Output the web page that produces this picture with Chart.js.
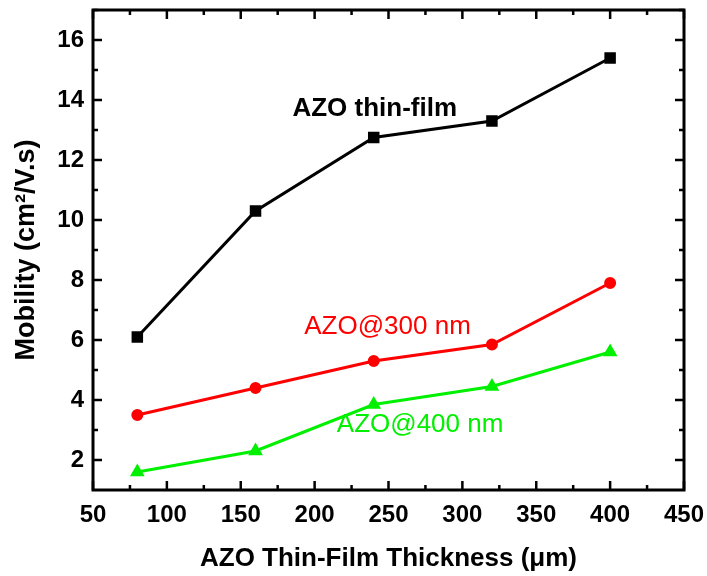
<!DOCTYPE html>
<html>
<head>
<meta charset="utf-8">
<script src="https://cdn.jsdelivr.net/npm/chart.js@4"></script>
<style>
  html, body { margin: 0; padding: 0; background: #fff; }
  #wrap { width: 707px; height: 576px; }
</style>
</head>
<body>
<div id="wrap"><canvas id="myChart"></canvas></div>
<script>
// thickness (um)
const thickness = [80, 160, 240, 320, 400];
// mobility (cm2/V.s)
const thinFilm = [6.1, 10.3, 12.75, 13.3, 15.4];
const azo300 = [3.5, 4.4, 5.3, 5.85, 7.9];
const azo400 = [1.6, 2.3, 3.85, 4.45, 5.6];

const xTicks = [50, 100, 150, 200, 250, 300, 350, 400, 450];
const yTicks = [2, 4, 6, 8, 10, 12, 14, 16];

// text labels inside the plot, placed in data units
const notes = [
  { text: "AZO thin-film", x: 185, y: 13.7, color: "#000000", bold: true },
  { text: "AZO@300 nm", x: 193, y: 6.43, color: "#ff0000", bold: false },
  { text: "AZO@400 nm", x: 215, y: 3.17, color: "#00f000", bold: false },
];

const FONT = "'Liberation Sans', Arial, sans-serif";

function Points(ys) {
  let ans = [];
  for (let i = 0; i < thickness.length; i++) {
    ans.push({ x: thickness[i], y: ys[i] });
  }
  return ans;
}

const framePlugin = {
  id: "frame",
  afterDraw(chart) {
    const ctx = chart.ctx;
    const a = chart.chartArea;
    const xs = chart.scales.x;
    const ys = chart.scales.y;
    ctx.save();
    ctx.strokeStyle = "#000";
    ctx.lineWidth = 3;
    ctx.strokeRect(a.left, a.top, a.right - a.left, a.bottom - a.top);
    ctx.lineWidth = 2.5;
    ctx.beginPath();
    // x ticks (inward), major + minor
    for (let i = 0; i < xTicks.length; i++) {
      let px = xs.getPixelForValue(xTicks[i]);
      ctx.moveTo(px, a.bottom); ctx.lineTo(px, a.bottom - 9);
      ctx.moveTo(px, a.top); ctx.lineTo(px, a.top + 9);
      if (i < xTicks.length - 1) {
        let mx = xs.getPixelForValue((xTicks[i] + xTicks[i + 1]) / 2);
        ctx.moveTo(mx, a.bottom); ctx.lineTo(mx, a.bottom - 5);
        ctx.moveTo(mx, a.top); ctx.lineTo(mx, a.top + 5);
      }
    }
    // y ticks
    for (let i = 0; i < yTicks.length; i++) {
      let py = ys.getPixelForValue(yTicks[i]);
      ctx.moveTo(a.left, py); ctx.lineTo(a.left + 9, py);
      ctx.moveTo(a.right, py); ctx.lineTo(a.right - 9, py);
    }
    for (let v = 3; v <= 17; v += 2) {
      let py = ys.getPixelForValue(v);
      ctx.moveTo(a.left, py); ctx.lineTo(a.left + 5, py);
      ctx.moveTo(a.right, py); ctx.lineTo(a.right - 5, py);
    }
    ctx.stroke();
    // notes
    ctx.textBaseline = "middle";
    ctx.textAlign = "left";
    for (let i = 0; i < notes.length; i++) {
      let n = notes[i];
      ctx.fillStyle = n.color;
      ctx.font = (n.bold ? "bold " : "") + "26px " + FONT;
      ctx.fillText(n.text, xs.getPixelForValue(n.x), ys.getPixelForValue(n.y));
    }
    ctx.restore();
  },
};

const data = {
  datasets: [
    {
      label: "AZO thin-film",
      data: Points(thinFilm),
      borderColor: "#000000",
      backgroundColor: "#000000",
      pointStyle: "rect",
      pointRadius: 6,
      borderWidth: 3,
    },
    {
      label: "AZO@300 nm",
      data: Points(azo300),
      borderColor: "#ff0000",
      backgroundColor: "#ff0000",
      pointStyle: "circle",
      pointRadius: 4.5,
      borderWidth: 3,
    },
    {
      label: "AZO@400 nm",
      data: Points(azo400),
      borderColor: "#00f000",
      backgroundColor: "#00f000",
      pointStyle: "triangle",
      pointRadius: 5.5,
      borderWidth: 3,
    },
  ],
};

const config = {
  type: "line",
  data: data,
  plugins: [framePlugin],
  options: {
    responsive: true,
    maintainAspectRatio: false,
    animation: false,
    layout: { padding: { top: 10, right: 23, left: 10, bottom: 0 } },
    plugins: { legend: { display: false }, tooltip: { enabled: false } },
    elements: { line: { tension: 0 }, point: { borderWidth: 0 } },
    scales: {
      x: {
        type: "linear",
        min: 50,
        max: 450,
        afterBuildTicks: (s) => { s.ticks = xTicks.map((v) => ({ value: v })); },
        afterFit: (s) => { s.height = 86; s.paddingLeft = 0; s.paddingRight = 0; },
        grid: { display: false, drawTicks: false },
        border: { display: false },
        ticks: { color: "#000", padding: 11, font: { family: FONT, size: 24, weight: "bold" } },
        title: {
          display: true,
          text: "AZO Thin-Film Thickness (\u03bcm)",
          color: "#000",
          padding: { top: 4, bottom: 2 },
          font: { family: FONT, size: 26, weight: "bold" },
        },
      },
      y: {
        type: "linear",
        min: 1,
        max: 17,
        afterBuildTicks: (s) => { s.ticks = yTicks.map((v) => ({ value: v })); },
        afterFit: (s) => { s.width = 83; s.paddingTop = 0; s.paddingBottom = 0; },
        grid: { display: false, drawTicks: false },
        border: { display: false },
        ticks: { color: "#000", padding: 9, font: { family: FONT, size: 24, weight: "bold" } },
        title: {
          display: true,
          text: "Mobility (cm\u00b2/V.s)",
          color: "#000",
          padding: { top: 0, bottom: 4 },
          font: { family: FONT, size: 27, weight: "bold" },
        },
      },
    },
  },
};

new Chart(document.getElementById("myChart"), config);
</script>
</body>
</html>
